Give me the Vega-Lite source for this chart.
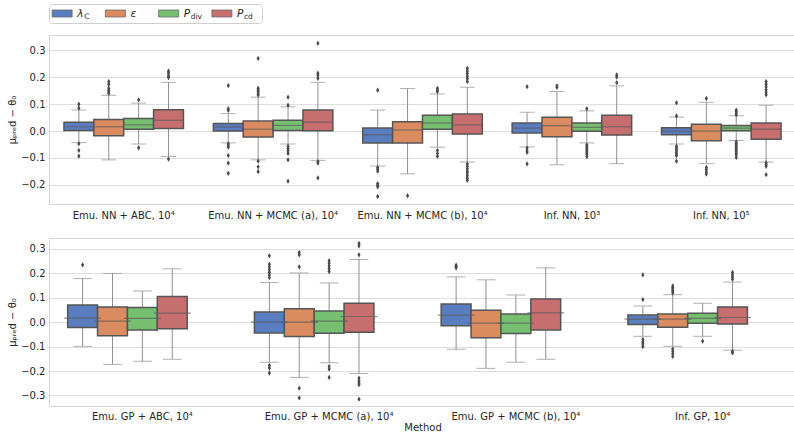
{
  "$schema": "https://vega.github.io/schema/vega-lite/v6.json",
  "padding": {"left": 7, "right": 0, "top": 3, "bottom": 0},
  "background": "white",
  "config": {
    "font": "DejaVu Sans",
    "view": {"stroke": "#d6d6d6"},
    "axis": {
      "labelFont": "DejaVu Sans", "labelFontSize": 10, "labelColor": "#262626",
      "titleFont": "DejaVu Sans", "titleFontSize": 10, "titleColor": "#262626", "titleFontWeight": "normal",
      "ticks": false, "domain": false, "gridColor": "#dedede", "gridWidth": 1, "labelPadding": 4, "titlePadding": 3
    }
  },
  "datasets": {
    "legend": [
      {"series": "λC", "main": "λ", "sub": "C"},
      {"series": "ε", "main": "ε", "sub": ""},
      {"series": "Pdiv", "main": "P", "sub": "div"},
      {"series": "Pcd", "main": "P", "sub": "cd"}
    ],
    "boxes": [
      {"panel": "top", "method": "Emu. NN + ABC, 10⁴", "series": "λC", "lo": -0.043, "q1": 0.002, "med": 0.016, "q3": 0.033, "hi": 0.078},
      {"panel": "top", "method": "Emu. NN + ABC, 10⁴", "series": "ε", "lo": -0.107, "q1": -0.017, "med": 0.016, "q3": 0.043, "hi": 0.133},
      {"panel": "top", "method": "Emu. NN + ABC, 10⁴", "series": "Pdiv", "lo": -0.048, "q1": 0.007, "med": 0.023, "q3": 0.047, "hi": 0.104},
      {"panel": "top", "method": "Emu. NN + ABC, 10⁴", "series": "Pcd", "lo": -0.094, "q1": 0.010, "med": 0.040, "q3": 0.079, "hi": 0.181},
      {"panel": "top", "method": "Emu. NN + MCMC (a), 10⁴", "series": "λC", "lo": -0.044, "q1": 0.000, "med": 0.015, "q3": 0.028, "hi": 0.065},
      {"panel": "top", "method": "Emu. NN + MCMC (a), 10⁴", "series": "ε", "lo": -0.107, "q1": -0.022, "med": 0.007, "q3": 0.037, "hi": 0.126},
      {"panel": "top", "method": "Emu. NN + MCMC (a), 10⁴", "series": "Pdiv", "lo": -0.048, "q1": 0.002, "med": 0.021, "q3": 0.040, "hi": 0.090},
      {"panel": "top", "method": "Emu. NN + MCMC (a), 10⁴", "series": "Pcd", "lo": -0.109, "q1": 0.001, "med": 0.033, "q3": 0.078, "hi": 0.181},
      {"panel": "top", "method": "Emu. NN + MCMC (b), 10⁴", "series": "λC", "lo": -0.130, "q1": -0.044, "med": -0.014, "q3": 0.011, "hi": 0.078},
      {"panel": "top", "method": "Emu. NN + MCMC (b), 10⁴", "series": "ε", "lo": -0.159, "q1": -0.044, "med": 0.004, "q3": 0.035, "hi": 0.158},
      {"panel": "top", "method": "Emu. NN + MCMC (b), 10⁴", "series": "Pdiv", "lo": -0.060, "q1": 0.007, "med": 0.030, "q3": 0.059, "hi": 0.138},
      {"panel": "top", "method": "Emu. NN + MCMC (b), 10⁴", "series": "Pcd", "lo": -0.115, "q1": -0.011, "med": 0.023, "q3": 0.063, "hi": 0.163},
      {"panel": "top", "method": "Inf. NN, 10³", "series": "λC", "lo": -0.059, "q1": -0.007, "med": 0.011, "q3": 0.030, "hi": 0.070},
      {"panel": "top", "method": "Inf. NN, 10³", "series": "ε", "lo": -0.125, "q1": -0.021, "med": 0.020, "q3": 0.051, "hi": 0.147},
      {"panel": "top", "method": "Inf. NN, 10³", "series": "Pdiv", "lo": -0.044, "q1": -0.001, "med": 0.014, "q3": 0.030, "hi": 0.075},
      {"panel": "top", "method": "Inf. NN, 10³", "series": "Pcd", "lo": -0.121, "q1": -0.015, "med": 0.016, "q3": 0.059, "hi": 0.168},
      {"panel": "top", "method": "Inf. NN, 10⁵", "series": "λC", "lo": -0.048, "q1": -0.014, "med": -0.001, "q3": 0.012, "hi": 0.052},
      {"panel": "top", "method": "Inf. NN, 10⁵", "series": "ε", "lo": -0.121, "q1": -0.036, "med": 0.000, "q3": 0.025, "hi": 0.107},
      {"panel": "top", "method": "Inf. NN, 10⁵", "series": "Pdiv", "lo": -0.035, "q1": 0.001, "med": 0.011, "q3": 0.021, "hi": 0.057},
      {"panel": "top", "method": "Inf. NN, 10⁵", "series": "Pcd", "lo": -0.115, "q1": -0.030, "med": 0.007, "q3": 0.030, "hi": 0.096},
      {"panel": "bottom", "method": "Emu. GP + ABC, 10⁴", "series": "λC", "lo": -0.099, "q1": -0.022, "med": 0.016, "q3": 0.070, "hi": 0.178},
      {"panel": "bottom", "method": "Emu. GP + ABC, 10⁴", "series": "ε", "lo": -0.173, "q1": -0.056, "med": 0.004, "q3": 0.062, "hi": 0.199},
      {"panel": "bottom", "method": "Emu. GP + ABC, 10⁴", "series": "Pdiv", "lo": -0.160, "q1": -0.032, "med": 0.015, "q3": 0.060, "hi": 0.127},
      {"panel": "bottom", "method": "Emu. GP + ABC, 10⁴", "series": "Pcd", "lo": -0.152, "q1": -0.027, "med": 0.037, "q3": 0.105, "hi": 0.218},
      {"panel": "bottom", "method": "Emu. GP + MCMC (a), 10⁴", "series": "λC", "lo": -0.164, "q1": -0.044, "med": 0.000, "q3": 0.041, "hi": 0.162},
      {"panel": "bottom", "method": "Emu. GP + MCMC (a), 10⁴", "series": "ε", "lo": -0.226, "q1": -0.059, "med": 0.000, "q3": 0.055, "hi": 0.201},
      {"panel": "bottom", "method": "Emu. GP + MCMC (a), 10⁴", "series": "Pdiv", "lo": -0.166, "q1": -0.045, "med": 0.004, "q3": 0.045, "hi": 0.160},
      {"panel": "bottom", "method": "Emu. GP + MCMC (a), 10⁴", "series": "Pcd", "lo": -0.210, "q1": -0.041, "med": 0.023, "q3": 0.077, "hi": 0.256},
      {"panel": "bottom", "method": "Emu. GP + MCMC (b), 10⁴", "series": "λC", "lo": -0.111, "q1": -0.015, "med": 0.029, "q3": 0.074, "hi": 0.185},
      {"panel": "bottom", "method": "Emu. GP + MCMC (b), 10⁴", "series": "ε", "lo": -0.189, "q1": -0.064, "med": -0.004, "q3": 0.049, "hi": 0.173},
      {"panel": "bottom", "method": "Emu. GP + MCMC (b), 10⁴", "series": "Pdiv", "lo": -0.164, "q1": -0.047, "med": -0.004, "q3": 0.033, "hi": 0.111},
      {"panel": "bottom", "method": "Emu. GP + MCMC (b), 10⁴", "series": "Pcd", "lo": -0.152, "q1": -0.032, "med": 0.038, "q3": 0.095, "hi": 0.222},
      {"panel": "bottom", "method": "Inf. GP, 10⁴", "series": "λC", "lo": -0.058, "q1": -0.010, "med": 0.012, "q3": 0.029, "hi": 0.066},
      {"panel": "bottom", "method": "Inf. GP, 10⁴", "series": "ε", "lo": -0.099, "q1": -0.021, "med": 0.012, "q3": 0.033, "hi": 0.112},
      {"panel": "bottom", "method": "Inf. GP, 10⁴", "series": "Pdiv", "lo": -0.058, "q1": -0.005, "med": 0.015, "q3": 0.036, "hi": 0.077},
      {"panel": "bottom", "method": "Inf. GP, 10⁴", "series": "Pcd", "lo": -0.115, "q1": -0.008, "med": 0.019, "q3": 0.062, "hi": 0.164}
    ],
    "outliers": [
      {"panel": "top", "method": "Emu. NN + ABC, 10⁴", "series": "λC", "value": 0.100},
      {"panel": "top", "method": "Emu. NN + ABC, 10⁴", "series": "λC", "value": 0.085},
      {"panel": "top", "method": "Emu. NN + ABC, 10⁴", "series": "λC", "value": -0.047},
      {"panel": "top", "method": "Emu. NN + ABC, 10⁴", "series": "λC", "value": -0.072},
      {"panel": "top", "method": "Emu. NN + ABC, 10⁴", "series": "λC", "value": -0.093},
      {"panel": "top", "method": "Emu. NN + ABC, 10⁴", "series": "ε", "value": 0.184},
      {"panel": "top", "method": "Emu. NN + ABC, 10⁴", "series": "ε", "value": 0.174},
      {"panel": "top", "method": "Emu. NN + ABC, 10⁴", "series": "ε", "value": 0.159},
      {"panel": "top", "method": "Emu. NN + ABC, 10⁴", "series": "ε", "value": 0.152},
      {"panel": "top", "method": "Emu. NN + ABC, 10⁴", "series": "ε", "value": 0.146},
      {"panel": "top", "method": "Emu. NN + ABC, 10⁴", "series": "ε", "value": 0.140},
      {"panel": "top", "method": "Emu. NN + ABC, 10⁴", "series": "Pdiv", "value": 0.116},
      {"panel": "top", "method": "Emu. NN + ABC, 10⁴", "series": "Pdiv", "value": -0.062},
      {"panel": "top", "method": "Emu. NN + ABC, 10⁴", "series": "Pcd", "value": 0.223},
      {"panel": "top", "method": "Emu. NN + ABC, 10⁴", "series": "Pcd", "value": 0.215},
      {"panel": "top", "method": "Emu. NN + ABC, 10⁴", "series": "Pcd", "value": 0.206},
      {"panel": "top", "method": "Emu. NN + ABC, 10⁴", "series": "Pcd", "value": 0.199},
      {"panel": "top", "method": "Emu. NN + ABC, 10⁴", "series": "Pcd", "value": -0.104},
      {"panel": "top", "method": "Emu. NN + MCMC (a), 10⁴", "series": "λC", "value": 0.169},
      {"panel": "top", "method": "Emu. NN + MCMC (a), 10⁴", "series": "λC", "value": 0.083},
      {"panel": "top", "method": "Emu. NN + MCMC (a), 10⁴", "series": "λC", "value": 0.077},
      {"panel": "top", "method": "Emu. NN + MCMC (a), 10⁴", "series": "λC", "value": -0.047},
      {"panel": "top", "method": "Emu. NN + MCMC (a), 10⁴", "series": "λC", "value": -0.053},
      {"panel": "top", "method": "Emu. NN + MCMC (a), 10⁴", "series": "λC", "value": -0.060},
      {"panel": "top", "method": "Emu. NN + MCMC (a), 10⁴", "series": "λC", "value": -0.091},
      {"panel": "top", "method": "Emu. NN + MCMC (a), 10⁴", "series": "λC", "value": -0.119},
      {"panel": "top", "method": "Emu. NN + MCMC (a), 10⁴", "series": "λC", "value": -0.157},
      {"panel": "top", "method": "Emu. NN + MCMC (a), 10⁴", "series": "ε", "value": 0.270},
      {"panel": "top", "method": "Emu. NN + MCMC (a), 10⁴", "series": "ε", "value": 0.159},
      {"panel": "top", "method": "Emu. NN + MCMC (a), 10⁴", "series": "ε", "value": 0.153},
      {"panel": "top", "method": "Emu. NN + MCMC (a), 10⁴", "series": "ε", "value": 0.147},
      {"panel": "top", "method": "Emu. NN + MCMC (a), 10⁴", "series": "ε", "value": 0.140},
      {"panel": "top", "method": "Emu. NN + MCMC (a), 10⁴", "series": "ε", "value": 0.134},
      {"panel": "top", "method": "Emu. NN + MCMC (a), 10⁴", "series": "ε", "value": -0.112},
      {"panel": "top", "method": "Emu. NN + MCMC (a), 10⁴", "series": "ε", "value": -0.133},
      {"panel": "top", "method": "Emu. NN + MCMC (a), 10⁴", "series": "ε", "value": -0.151},
      {"panel": "top", "method": "Emu. NN + MCMC (a), 10⁴", "series": "Pdiv", "value": 0.126},
      {"panel": "top", "method": "Emu. NN + MCMC (a), 10⁴", "series": "Pdiv", "value": 0.096},
      {"panel": "top", "method": "Emu. NN + MCMC (a), 10⁴", "series": "Pdiv", "value": -0.056},
      {"panel": "top", "method": "Emu. NN + MCMC (a), 10⁴", "series": "Pdiv", "value": -0.065},
      {"panel": "top", "method": "Emu. NN + MCMC (a), 10⁴", "series": "Pdiv", "value": -0.073},
      {"panel": "top", "method": "Emu. NN + MCMC (a), 10⁴", "series": "Pdiv", "value": -0.083},
      {"panel": "top", "method": "Emu. NN + MCMC (a), 10⁴", "series": "Pdiv", "value": -0.107},
      {"panel": "top", "method": "Emu. NN + MCMC (a), 10⁴", "series": "Pdiv", "value": -0.186},
      {"panel": "top", "method": "Emu. NN + MCMC (a), 10⁴", "series": "Pcd", "value": 0.326},
      {"panel": "top", "method": "Emu. NN + MCMC (a), 10⁴", "series": "Pcd", "value": 0.215},
      {"panel": "top", "method": "Emu. NN + MCMC (a), 10⁴", "series": "Pcd", "value": 0.207},
      {"panel": "top", "method": "Emu. NN + MCMC (a), 10⁴", "series": "Pcd", "value": 0.196},
      {"panel": "top", "method": "Emu. NN + MCMC (a), 10⁴", "series": "Pcd", "value": -0.114},
      {"panel": "top", "method": "Emu. NN + MCMC (a), 10⁴", "series": "Pcd", "value": -0.119},
      {"panel": "top", "method": "Emu. NN + MCMC (a), 10⁴", "series": "Pcd", "value": -0.174},
      {"panel": "top", "method": "Emu. NN + MCMC (b), 10⁴", "series": "λC", "value": 0.152},
      {"panel": "top", "method": "Emu. NN + MCMC (b), 10⁴", "series": "λC", "value": -0.135},
      {"panel": "top", "method": "Emu. NN + MCMC (b), 10⁴", "series": "λC", "value": -0.142},
      {"panel": "top", "method": "Emu. NN + MCMC (b), 10⁴", "series": "λC", "value": -0.149},
      {"panel": "top", "method": "Emu. NN + MCMC (b), 10⁴", "series": "λC", "value": -0.195},
      {"panel": "top", "method": "Emu. NN + MCMC (b), 10⁴", "series": "λC", "value": -0.201},
      {"panel": "top", "method": "Emu. NN + MCMC (b), 10⁴", "series": "λC", "value": -0.207},
      {"panel": "top", "method": "Emu. NN + MCMC (b), 10⁴", "series": "λC", "value": -0.243},
      {"panel": "top", "method": "Emu. NN + MCMC (b), 10⁴", "series": "ε", "value": -0.240},
      {"panel": "top", "method": "Emu. NN + MCMC (b), 10⁴", "series": "Pdiv", "value": 0.159},
      {"panel": "top", "method": "Emu. NN + MCMC (b), 10⁴", "series": "Pdiv", "value": 0.153},
      {"panel": "top", "method": "Emu. NN + MCMC (b), 10⁴", "series": "Pdiv", "value": 0.147},
      {"panel": "top", "method": "Emu. NN + MCMC (b), 10⁴", "series": "Pdiv", "value": -0.072},
      {"panel": "top", "method": "Emu. NN + MCMC (b), 10⁴", "series": "Pdiv", "value": -0.083},
      {"panel": "top", "method": "Emu. NN + MCMC (b), 10⁴", "series": "Pdiv", "value": -0.094},
      {"panel": "top", "method": "Emu. NN + MCMC (b), 10⁴", "series": "Pcd", "value": 0.233},
      {"panel": "top", "method": "Emu. NN + MCMC (b), 10⁴", "series": "Pcd", "value": 0.223},
      {"panel": "top", "method": "Emu. NN + MCMC (b), 10⁴", "series": "Pcd", "value": 0.214},
      {"panel": "top", "method": "Emu. NN + MCMC (b), 10⁴", "series": "Pcd", "value": 0.204},
      {"panel": "top", "method": "Emu. NN + MCMC (b), 10⁴", "series": "Pcd", "value": 0.194},
      {"panel": "top", "method": "Emu. NN + MCMC (b), 10⁴", "series": "Pcd", "value": 0.184},
      {"panel": "top", "method": "Emu. NN + MCMC (b), 10⁴", "series": "Pcd", "value": -0.122},
      {"panel": "top", "method": "Emu. NN + MCMC (b), 10⁴", "series": "Pcd", "value": -0.131},
      {"panel": "top", "method": "Emu. NN + MCMC (b), 10⁴", "series": "Pcd", "value": -0.140},
      {"panel": "top", "method": "Emu. NN + MCMC (b), 10⁴", "series": "Pcd", "value": -0.149},
      {"panel": "top", "method": "Emu. NN + MCMC (b), 10⁴", "series": "Pcd", "value": -0.157},
      {"panel": "top", "method": "Emu. NN + MCMC (b), 10⁴", "series": "Pcd", "value": -0.166},
      {"panel": "top", "method": "Emu. NN + MCMC (b), 10⁴", "series": "Pcd", "value": -0.175},
      {"panel": "top", "method": "Emu. NN + MCMC (b), 10⁴", "series": "Pcd", "value": -0.183},
      {"panel": "top", "method": "Inf. NN, 10³", "series": "λC", "value": 0.165},
      {"panel": "top", "method": "Inf. NN, 10³", "series": "λC", "value": -0.063},
      {"panel": "top", "method": "Inf. NN, 10³", "series": "λC", "value": -0.072},
      {"panel": "top", "method": "Inf. NN, 10³", "series": "λC", "value": -0.079},
      {"panel": "top", "method": "Inf. NN, 10³", "series": "λC", "value": -0.122},
      {"panel": "top", "method": "Inf. NN, 10³", "series": "ε", "value": 0.168},
      {"panel": "top", "method": "Inf. NN, 10³", "series": "ε", "value": 0.162},
      {"panel": "top", "method": "Inf. NN, 10³", "series": "Pdiv", "value": 0.083},
      {"panel": "top", "method": "Inf. NN, 10³", "series": "Pdiv", "value": -0.051},
      {"panel": "top", "method": "Inf. NN, 10³", "series": "Pdiv", "value": -0.057},
      {"panel": "top", "method": "Inf. NN, 10³", "series": "Pdiv", "value": -0.063},
      {"panel": "top", "method": "Inf. NN, 10³", "series": "Pdiv", "value": -0.069},
      {"panel": "top", "method": "Inf. NN, 10³", "series": "Pdiv", "value": -0.075},
      {"panel": "top", "method": "Inf. NN, 10³", "series": "Pdiv", "value": -0.081},
      {"panel": "top", "method": "Inf. NN, 10³", "series": "Pdiv", "value": -0.087},
      {"panel": "top", "method": "Inf. NN, 10³", "series": "Pdiv", "value": -0.095},
      {"panel": "top", "method": "Inf. NN, 10³", "series": "Pcd", "value": 0.209},
      {"panel": "top", "method": "Inf. NN, 10³", "series": "Pcd", "value": 0.201},
      {"panel": "top", "method": "Inf. NN, 10³", "series": "Pcd", "value": 0.180},
      {"panel": "top", "method": "Inf. NN, 10⁵", "series": "λC", "value": 0.105},
      {"panel": "top", "method": "Inf. NN, 10⁵", "series": "λC", "value": 0.056},
      {"panel": "top", "method": "Inf. NN, 10⁵", "series": "λC", "value": -0.056},
      {"panel": "top", "method": "Inf. NN, 10⁵", "series": "λC", "value": -0.063},
      {"panel": "top", "method": "Inf. NN, 10⁵", "series": "λC", "value": -0.070},
      {"panel": "top", "method": "Inf. NN, 10⁵", "series": "λC", "value": -0.078},
      {"panel": "top", "method": "Inf. NN, 10⁵", "series": "λC", "value": -0.085},
      {"panel": "top", "method": "Inf. NN, 10⁵", "series": "λC", "value": -0.092},
      {"panel": "top", "method": "Inf. NN, 10⁵", "series": "λC", "value": -0.112},
      {"panel": "top", "method": "Inf. NN, 10⁵", "series": "ε", "value": 0.121},
      {"panel": "top", "method": "Inf. NN, 10⁵", "series": "ε", "value": -0.135},
      {"panel": "top", "method": "Inf. NN, 10⁵", "series": "ε", "value": -0.143},
      {"panel": "top", "method": "Inf. NN, 10⁵", "series": "ε", "value": -0.152},
      {"panel": "top", "method": "Inf. NN, 10⁵", "series": "ε", "value": -0.160},
      {"panel": "top", "method": "Inf. NN, 10⁵", "series": "Pdiv", "value": 0.078},
      {"panel": "top", "method": "Inf. NN, 10⁵", "series": "Pdiv", "value": 0.072},
      {"panel": "top", "method": "Inf. NN, 10⁵", "series": "Pdiv", "value": 0.066},
      {"panel": "top", "method": "Inf. NN, 10⁵", "series": "Pdiv", "value": 0.060},
      {"panel": "top", "method": "Inf. NN, 10⁵", "series": "Pdiv", "value": -0.040},
      {"panel": "top", "method": "Inf. NN, 10⁵", "series": "Pdiv", "value": -0.046},
      {"panel": "top", "method": "Inf. NN, 10⁵", "series": "Pdiv", "value": -0.052},
      {"panel": "top", "method": "Inf. NN, 10⁵", "series": "Pdiv", "value": -0.058},
      {"panel": "top", "method": "Inf. NN, 10⁵", "series": "Pdiv", "value": -0.064},
      {"panel": "top", "method": "Inf. NN, 10⁵", "series": "Pdiv", "value": -0.070},
      {"panel": "top", "method": "Inf. NN, 10⁵", "series": "Pdiv", "value": -0.076},
      {"panel": "top", "method": "Inf. NN, 10⁵", "series": "Pdiv", "value": -0.082},
      {"panel": "top", "method": "Inf. NN, 10⁵", "series": "Pdiv", "value": -0.088},
      {"panel": "top", "method": "Inf. NN, 10⁵", "series": "Pdiv", "value": -0.098},
      {"panel": "top", "method": "Inf. NN, 10⁵", "series": "Pcd", "value": 0.184},
      {"panel": "top", "method": "Inf. NN, 10⁵", "series": "Pcd", "value": 0.174},
      {"panel": "top", "method": "Inf. NN, 10⁵", "series": "Pcd", "value": 0.164},
      {"panel": "top", "method": "Inf. NN, 10⁵", "series": "Pcd", "value": 0.154},
      {"panel": "top", "method": "Inf. NN, 10⁵", "series": "Pcd", "value": 0.144},
      {"panel": "top", "method": "Inf. NN, 10⁵", "series": "Pcd", "value": 0.135},
      {"panel": "top", "method": "Inf. NN, 10⁵", "series": "Pcd", "value": -0.118},
      {"panel": "top", "method": "Inf. NN, 10⁵", "series": "Pcd", "value": -0.125},
      {"panel": "top", "method": "Inf. NN, 10⁵", "series": "Pcd", "value": -0.131},
      {"panel": "top", "method": "Inf. NN, 10⁵", "series": "Pcd", "value": -0.162},
      {"panel": "bottom", "method": "Emu. GP + ABC, 10⁴", "series": "λC", "value": 0.234},
      {"panel": "bottom", "method": "Emu. GP + MCMC (a), 10⁴", "series": "λC", "value": 0.271},
      {"panel": "bottom", "method": "Emu. GP + MCMC (a), 10⁴", "series": "λC", "value": 0.237},
      {"panel": "bottom", "method": "Emu. GP + MCMC (a), 10⁴", "series": "λC", "value": 0.226},
      {"panel": "bottom", "method": "Emu. GP + MCMC (a), 10⁴", "series": "λC", "value": 0.215},
      {"panel": "bottom", "method": "Emu. GP + MCMC (a), 10⁴", "series": "λC", "value": 0.204},
      {"panel": "bottom", "method": "Emu. GP + MCMC (a), 10⁴", "series": "λC", "value": 0.193},
      {"panel": "bottom", "method": "Emu. GP + MCMC (a), 10⁴", "series": "λC", "value": 0.182},
      {"panel": "bottom", "method": "Emu. GP + MCMC (a), 10⁴", "series": "λC", "value": -0.177},
      {"panel": "bottom", "method": "Emu. GP + MCMC (a), 10⁴", "series": "λC", "value": -0.188},
      {"panel": "bottom", "method": "Emu. GP + MCMC (a), 10⁴", "series": "λC", "value": -0.208},
      {"panel": "bottom", "method": "Emu. GP + MCMC (a), 10⁴", "series": "ε", "value": 0.285},
      {"panel": "bottom", "method": "Emu. GP + MCMC (a), 10⁴", "series": "ε", "value": 0.275},
      {"panel": "bottom", "method": "Emu. GP + MCMC (a), 10⁴", "series": "ε", "value": 0.226},
      {"panel": "bottom", "method": "Emu. GP + MCMC (a), 10⁴", "series": "ε", "value": -0.270},
      {"panel": "bottom", "method": "Emu. GP + MCMC (a), 10⁴", "series": "ε", "value": -0.310},
      {"panel": "bottom", "method": "Emu. GP + MCMC (a), 10⁴", "series": "Pdiv", "value": 0.251},
      {"panel": "bottom", "method": "Emu. GP + MCMC (a), 10⁴", "series": "Pdiv", "value": 0.240},
      {"panel": "bottom", "method": "Emu. GP + MCMC (a), 10⁴", "series": "Pdiv", "value": 0.229},
      {"panel": "bottom", "method": "Emu. GP + MCMC (a), 10⁴", "series": "Pdiv", "value": 0.218},
      {"panel": "bottom", "method": "Emu. GP + MCMC (a), 10⁴", "series": "Pdiv", "value": 0.207},
      {"panel": "bottom", "method": "Emu. GP + MCMC (a), 10⁴", "series": "Pdiv", "value": -0.181},
      {"panel": "bottom", "method": "Emu. GP + MCMC (a), 10⁴", "series": "Pdiv", "value": -0.192},
      {"panel": "bottom", "method": "Emu. GP + MCMC (a), 10⁴", "series": "Pdiv", "value": -0.226},
      {"panel": "bottom", "method": "Emu. GP + MCMC (a), 10⁴", "series": "Pcd", "value": 0.322},
      {"panel": "bottom", "method": "Emu. GP + MCMC (a), 10⁴", "series": "Pcd", "value": 0.312},
      {"panel": "bottom", "method": "Emu. GP + MCMC (a), 10⁴", "series": "Pcd", "value": 0.275},
      {"panel": "bottom", "method": "Emu. GP + MCMC (a), 10⁴", "series": "Pcd", "value": -0.229},
      {"panel": "bottom", "method": "Emu. GP + MCMC (a), 10⁴", "series": "Pcd", "value": -0.240},
      {"panel": "bottom", "method": "Emu. GP + MCMC (a), 10⁴", "series": "Pcd", "value": -0.249},
      {"panel": "bottom", "method": "Emu. GP + MCMC (a), 10⁴", "series": "Pcd", "value": -0.256},
      {"panel": "bottom", "method": "Emu. GP + MCMC (a), 10⁴", "series": "Pcd", "value": -0.315},
      {"panel": "bottom", "method": "Emu. GP + MCMC (b), 10⁴", "series": "λC", "value": 0.233},
      {"panel": "bottom", "method": "Emu. GP + MCMC (b), 10⁴", "series": "λC", "value": 0.227},
      {"panel": "bottom", "method": "Emu. GP + MCMC (b), 10⁴", "series": "λC", "value": 0.222},
      {"panel": "bottom", "method": "Inf. GP, 10⁴", "series": "λC", "value": 0.193},
      {"panel": "bottom", "method": "Inf. GP, 10⁴", "series": "λC", "value": 0.092},
      {"panel": "bottom", "method": "Inf. GP, 10⁴", "series": "λC", "value": -0.071},
      {"panel": "bottom", "method": "Inf. GP, 10⁴", "series": "λC", "value": -0.081},
      {"panel": "bottom", "method": "Inf. GP, 10⁴", "series": "λC", "value": -0.089},
      {"panel": "bottom", "method": "Inf. GP, 10⁴", "series": "λC", "value": -0.100},
      {"panel": "bottom", "method": "Inf. GP, 10⁴", "series": "ε", "value": 0.148},
      {"panel": "bottom", "method": "Inf. GP, 10⁴", "series": "ε", "value": 0.141},
      {"panel": "bottom", "method": "Inf. GP, 10⁴", "series": "ε", "value": 0.134},
      {"panel": "bottom", "method": "Inf. GP, 10⁴", "series": "ε", "value": 0.127},
      {"panel": "bottom", "method": "Inf. GP, 10⁴", "series": "ε", "value": 0.119},
      {"panel": "bottom", "method": "Inf. GP, 10⁴", "series": "ε", "value": -0.110},
      {"panel": "bottom", "method": "Inf. GP, 10⁴", "series": "ε", "value": -0.119},
      {"panel": "bottom", "method": "Inf. GP, 10⁴", "series": "ε", "value": -0.129},
      {"panel": "bottom", "method": "Inf. GP, 10⁴", "series": "ε", "value": -0.140},
      {"panel": "bottom", "method": "Inf. GP, 10⁴", "series": "Pdiv", "value": -0.078},
      {"panel": "bottom", "method": "Inf. GP, 10⁴", "series": "Pcd", "value": 0.203},
      {"panel": "bottom", "method": "Inf. GP, 10⁴", "series": "Pcd", "value": 0.193},
      {"panel": "bottom", "method": "Inf. GP, 10⁴", "series": "Pcd", "value": 0.185},
      {"panel": "bottom", "method": "Inf. GP, 10⁴", "series": "Pcd", "value": 0.175},
      {"panel": "bottom", "method": "Inf. GP, 10⁴", "series": "Pcd", "value": -0.119},
      {"panel": "bottom", "method": "Inf. GP, 10⁴", "series": "Pcd", "value": -0.126}
    ]
  },
  "spacing": 10,
  "vconcat": [
    {
      "width": 213,
      "height": 19,
      "view": {"stroke": "#cfcfcf", "cornerRadius": 3, "fill": "white"},
      "data": {"name": "legend"},
      "encoding": {
        "x": {"field": "series", "type": "nominal", "sort": ["λC", "ε", "Pdiv", "Pcd"], "scale": {"type": "band", "paddingInner": 0, "paddingOuter": 0}, "axis": null}
      },
      "layer": [
        {
          "mark": {"type": "point", "shape": "M-1,-0.35L1,-0.35L1,0.35L-1,0.35Z", "size": 400, "filled": true, "opacity": 1, "xOffset": -13.5, "stroke": "#6a6a6a", "strokeWidth": 0.8},
          "encoding": {
            "color": {"field": "series", "type": "nominal", "scale": {"domain": ["λC", "ε", "Pdiv", "Pcd"], "range": ["#597dbf", "#da8b5f", "#76bf71", "#c76e6e"]}, "legend": null}
          }
        },
        {
          "mark": {"type": "text", "align": "left", "baseline": "middle", "dx": 1.5, "fontStyle": "italic", "fontSize": 10.5, "color": "#262626"},
          "encoding": {"text": {"field": "main"}}
        },
        {
          "mark": {"type": "text", "align": "left", "baseline": "middle", "dx": 8.5, "dy": 3, "fontSize": 7.5, "color": "#262626"},
          "encoding": {"text": {"field": "sub"}}
        }
      ]
    },
    {
      "spacing": 16,
      "vconcat": [
        {
          "width": 747,
          "height": 169,
          "encoding": {
            "x": {"field": "method", "type": "nominal", "sort": ["Emu. NN + ABC, 10⁴", "Emu. NN + MCMC (a), 10⁴", "Emu. NN + MCMC (b), 10⁴", "Inf. NN, 10³", "Inf. NN, 10⁵"], "scale": {"paddingInner": 0.2, "paddingOuter": 0.1}, "axis": {"title": null, "labelAngle": 0, "grid": false, "labelPadding": 6}},
            "xOffset": {"field": "series", "type": "nominal", "sort": ["λC", "ε", "Pdiv", "Pcd"], "scale": {"paddingInner": 0, "paddingOuter": 0}},
            "color": {"field": "series", "type": "nominal", "scale": {"domain": ["λC", "ε", "Pdiv", "Pcd"], "range": ["#597dbf", "#da8b5f", "#76bf71", "#c76e6e"]}, "legend": null}
          },
          "layer": [
            {
              "data": {"name": "boxes"},
              "transform": [{"filter": "datum.panel === 'top'"}],
              "mark": {"type": "rule", "color": "#8f8f8f", "strokeWidth": 1},
              "encoding": {
                "y": {"field": "lo", "type": "quantitative", "scale": {"domain": [-0.271, 0.357], "nice": false, "zero": false}, "axis": {"title": "μₚᵣₑd − θ₀", "values": [-0.2, -0.1, 0, 0.1, 0.2, 0.3], "format": ".1f", "grid": true, "labelOverlap": false}},
                "y2": {"field": "hi"},
                "color": {"value": "#8f8f8f"}
              }
            },
            {
              "data": {"name": "boxes"},
              "transform": [{"filter": "datum.panel === 'top'"}],
              "mark": {"type": "tick", "orient": "horizontal", "size": 15, "thickness": 1, "color": "#8f8f8f"},
              "encoding": {"y": {"field": "hi", "type": "quantitative", "axis": {"title": "μₚᵣₑd − θ₀", "values": [-0.2, -0.1, 0, 0.1, 0.2, 0.3], "format": ".1f", "grid": true, "labelOverlap": false}}, "color": {"value": "#8f8f8f"}}
            },
            {
              "data": {"name": "boxes"},
              "transform": [{"filter": "datum.panel === 'top'"}],
              "mark": {"type": "tick", "orient": "horizontal", "size": 15, "thickness": 1, "color": "#8f8f8f"},
              "encoding": {"y": {"field": "lo", "type": "quantitative", "axis": {"title": "μₚᵣₑd − θ₀", "values": [-0.2, -0.1, 0, 0.1, 0.2, 0.3], "format": ".1f", "grid": true, "labelOverlap": false}}, "color": {"value": "#8f8f8f"}}
            },
            {
              "data": {"name": "boxes"},
              "transform": [{"filter": "datum.panel === 'top'"}],
              "mark": {"type": "bar", "stroke": "#555555", "strokeWidth": 1.5, "opacity": 1},
              "encoding": {"y": {"field": "q1", "type": "quantitative", "axis": {"title": "μₚᵣₑd − θ₀", "values": [-0.2, -0.1, 0, 0.1, 0.2, 0.3], "format": ".1f", "grid": true, "labelOverlap": false}}, "y2": {"field": "q3"}}
            },
            {
              "data": {"name": "boxes"},
              "transform": [{"filter": "datum.panel === 'top'"}],
              "mark": {"type": "tick", "orient": "horizontal", "size": 29.5, "thickness": 1.2, "color": "#5a5a5a"},
              "encoding": {"y": {"field": "med", "type": "quantitative", "axis": {"title": "μₚᵣₑd − θ₀", "values": [-0.2, -0.1, 0, 0.1, 0.2, 0.3], "format": ".1f", "grid": true, "labelOverlap": false}}, "color": {"value": "#5a5a5a"}}
            },
            {
              "data": {"name": "outliers"},
              "transform": [{"filter": "datum.panel === 'top'"}],
              "mark": {"type": "point", "shape": "M0,-1L0.6,0L0,1L-0.6,0Z", "size": 28, "filled": true, "opacity": 1},
              "encoding": {"y": {"field": "value", "type": "quantitative", "axis": {"title": "μₚᵣₑd − θ₀", "values": [-0.2, -0.1, 0, 0.1, 0.2, 0.3], "format": ".1f", "grid": true, "labelOverlap": false}}, "color": {"value": "#4a4a4a"}}
            }
          ]
        },
        {
          "width": 747,
          "height": 168,
          "encoding": {
            "x": {"field": "method", "type": "nominal", "sort": ["Emu. GP + ABC, 10⁴", "Emu. GP + MCMC (a), 10⁴", "Emu. GP + MCMC (b), 10⁴", "Inf. GP, 10⁴"], "scale": {"paddingInner": 0.2, "paddingOuter": 0.1}, "axis": {"title": "Method", "labelAngle": 0, "grid": false, "labelPadding": 5, "titlePadding": 1}},
            "xOffset": {"field": "series", "type": "nominal", "sort": ["λC", "ε", "Pdiv", "Pcd"], "scale": {"paddingInner": 0, "paddingOuter": 0}},
            "color": {"field": "series", "type": "nominal", "scale": {"domain": ["λC", "ε", "Pdiv", "Pcd"], "range": ["#597dbf", "#da8b5f", "#76bf71", "#c76e6e"]}, "legend": null}
          },
          "layer": [
            {
              "data": {"name": "boxes"},
              "transform": [{"filter": "datum.panel === 'bottom'"}],
              "mark": {"type": "rule", "color": "#8f8f8f", "strokeWidth": 1},
              "encoding": {
                "y": {"field": "lo", "type": "quantitative", "scale": {"domain": [-0.343, 0.344], "nice": false, "zero": false}, "axis": {"title": "μₚᵣₑd − θ₀", "values": [-0.3, -0.2, -0.1, 0, 0.1, 0.2, 0.3], "format": ".1f", "grid": true, "labelOverlap": false}},
                "y2": {"field": "hi"},
                "color": {"value": "#8f8f8f"}
              }
            },
            {
              "data": {"name": "boxes"},
              "transform": [{"filter": "datum.panel === 'bottom'"}],
              "mark": {"type": "tick", "orient": "horizontal", "size": 18.7, "thickness": 1, "color": "#8f8f8f"},
              "encoding": {"y": {"field": "hi", "type": "quantitative", "axis": {"title": "μₚᵣₑd − θ₀", "values": [-0.3, -0.2, -0.1, 0, 0.1, 0.2, 0.3], "format": ".1f", "grid": true, "labelOverlap": false}}, "color": {"value": "#8f8f8f"}}
            },
            {
              "data": {"name": "boxes"},
              "transform": [{"filter": "datum.panel === 'bottom'"}],
              "mark": {"type": "tick", "orient": "horizontal", "size": 18.7, "thickness": 1, "color": "#8f8f8f"},
              "encoding": {"y": {"field": "lo", "type": "quantitative", "axis": {"title": "μₚᵣₑd − θ₀", "values": [-0.3, -0.2, -0.1, 0, 0.1, 0.2, 0.3], "format": ".1f", "grid": true, "labelOverlap": false}}, "color": {"value": "#8f8f8f"}}
            },
            {
              "data": {"name": "boxes"},
              "transform": [{"filter": "datum.panel === 'bottom'"}],
              "mark": {"type": "bar", "stroke": "#555555", "strokeWidth": 1.5, "opacity": 1},
              "encoding": {"y": {"field": "q1", "type": "quantitative", "axis": {"title": "μₚᵣₑd − θ₀", "values": [-0.3, -0.2, -0.1, 0, 0.1, 0.2, 0.3], "format": ".1f", "grid": true, "labelOverlap": false}}, "y2": {"field": "q3"}}
            },
            {
              "data": {"name": "boxes"},
              "transform": [{"filter": "datum.panel === 'bottom'"}],
              "mark": {"type": "tick", "orient": "horizontal", "size": 36.8, "thickness": 1.2, "color": "#5a5a5a"},
              "encoding": {"y": {"field": "med", "type": "quantitative", "axis": {"title": "μₚᵣₑd − θ₀", "values": [-0.3, -0.2, -0.1, 0, 0.1, 0.2, 0.3], "format": ".1f", "grid": true, "labelOverlap": false}}, "color": {"value": "#5a5a5a"}}
            },
            {
              "data": {"name": "outliers"},
              "transform": [{"filter": "datum.panel === 'bottom'"}],
              "mark": {"type": "point", "shape": "M0,-1L0.6,0L0,1L-0.6,0Z", "size": 28, "filled": true, "opacity": 1},
              "encoding": {"y": {"field": "value", "type": "quantitative", "axis": {"title": "μₚᵣₑd − θ₀", "values": [-0.3, -0.2, -0.1, 0, 0.1, 0.2, 0.3], "format": ".1f", "grid": true, "labelOverlap": false}}, "color": {"value": "#4a4a4a"}}
            }
          ]
        }
      ]
    }
  ]
}
